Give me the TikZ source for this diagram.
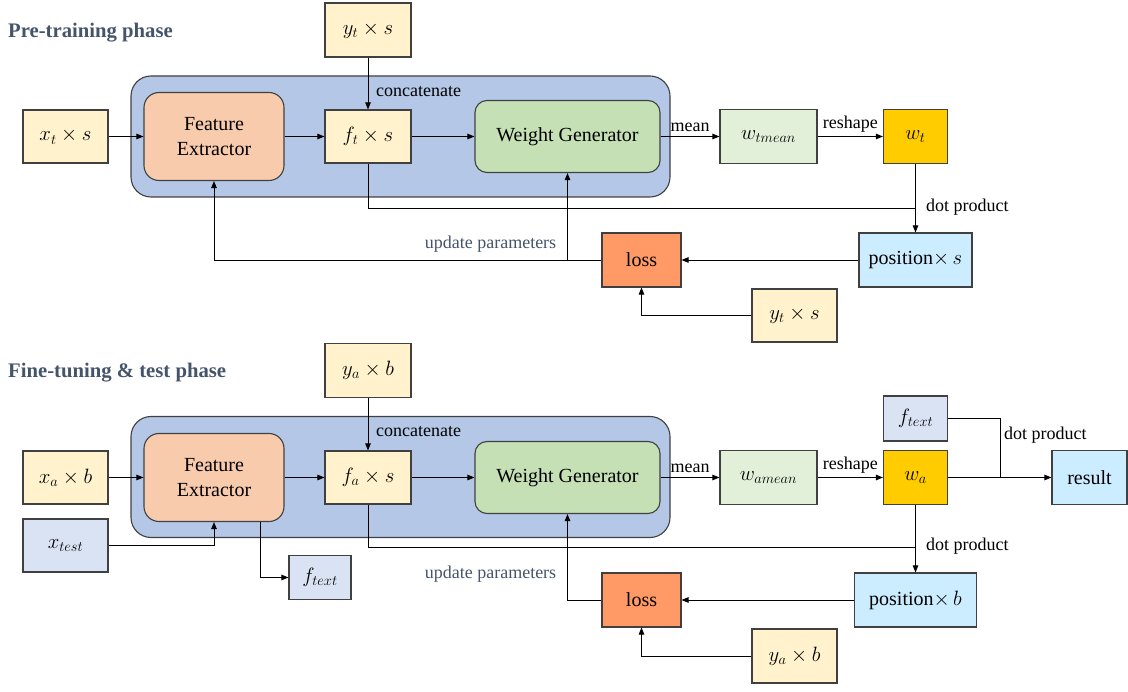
\documentclass[tikz,border=0pt]{standalone}
\usepackage{fontspec}
\setmainfont{Liberation Serif}
\usetikzlibrary{arrows.meta}
\definecolor{boxline}{HTML}{404040}
\definecolor{ylw}{HTML}{FFF2CC}
\definecolor{bigblue}{HTML}{B4C7E7}
\definecolor{feorange}{HTML}{F8CBAD}
\definecolor{wggreen}{HTML}{C5E0B4}
\definecolor{wmgreen}{HTML}{E2F0D9}
\definecolor{wgold}{HTML}{FFCC00}
\definecolor{posblue}{HTML}{CCECFF}
\definecolor{lossor}{HTML}{FF9966}
\definecolor{paleblue}{HTML}{DAE3F3}
\definecolor{titlec}{HTML}{44546A}
\begin{document}
\begin{tikzpicture}[x=1pt,y=-1pt,
  box/.style={draw=boxline, line width=1.1pt, inner sep=0pt, align=center,
    font=\fontsize{20}{25}\selectfont},
  bigbox/.style={draw=boxline, line width=1.1pt, fill=bigblue, rounded corners=20pt,
    minimum width=539pt, minimum height=121pt},
  conn/.style={draw=black, line width=0.9pt},
  arr/.style={conn, -{Triangle[length=7pt,width=5.5pt]}},
  lab/.style={font=\fontsize{18}{20}\selectfont, inner sep=0pt},
  ttl/.style={font=\bfseries\fontsize{20.7}{24}\selectfont, text=titlec, inner sep=0pt, anchor=west},
]
\useasboundingbox (0,0) rectangle (1128,692);

% ---------------- Pre-training phase ----------------
\node[ttl] (t1) at (8,33) {Pre-training phase};
\node[bigbox] (big1) at (400.5,136.5) {};
\node[box, fill=ylw, minimum width=86pt, minimum height=54pt] (yt1) at (368,30) {$y_t\times s$};
\node[box, fill=ylw, minimum width=85pt, minimum height=53pt] (xt1) at (65.5,136.5) {$x_t\times s$};
\node[box, fill=feorange, rounded corners=15pt, minimum width=140pt, minimum height=88pt] (fe1) at (214,136.5) {Feature\\Extractor};
\node[box, fill=ylw, minimum width=86pt, minimum height=53pt] (ft1) at (368,136.5) {$f_t\times s$};
\node[box, fill=wggreen, rounded corners=12pt, minimum width=185pt, minimum height=72pt] (wg1) at (567.5,136.5) {Weight Generator};
\node[box, fill=wmgreen, minimum width=97pt, minimum height=54pt] (wm1) at (768.5,136.5) {$w_{tmean}$};
\node[box, fill=wgold, minimum width=64pt, minimum height=54pt] (w1) at (915.5,136.5) {$w_t$};
\node[box, fill=posblue, minimum width=113pt, minimum height=54pt] (pos1) at (915.5,260) {position$\times\, s$};
\node[box, fill=lossor, minimum width=79pt, minimum height=54pt] (loss1) at (641.5,260) {loss};
\node[box, fill=ylw, minimum width=85pt, minimum height=53pt] (yl1) at (794.5,315.5) {$y_t\times s$};
\coordinate (dp1) at (915.5,208);

\draw[arr] (xt1) -- (fe1);
\draw[arr] (fe1) -- (ft1);
\draw[arr] (yt1) -- (ft1);
\node[lab, anchor=west] (cc1) at (376,92) {concatenate};
\draw[arr] (ft1) -- (wg1);
\draw[arr] (wg1) -- node[lab, above=4pt] (mn1) {mean} (wm1);
\draw[arr] (wm1) -- node[lab, above=4pt] (rs1) {reshape} (w1);
\draw[arr] (w1) -- (pos1);
\draw[conn] (ft1.south) |- (dp1);
\node[lab, anchor=west] (dpl1) at (926,207) {dot product};
\draw[arr] (pos1) -- (loss1);
\draw[arr] (yl1.west) -| (loss1.south);
\draw[arr] (loss1.west) -| (wg1.south);
\draw[arr] (loss1.west) -| (fe1.south);
\node[lab, text=titlec] (up1) at (490.5,244) {update parameters};

% ---------------- Fine-tuning & test phase ----------------
\node[ttl] (t2) at (8,373) {Fine-tuning \& test phase};
\node[bigbox] (big2) at (400.5,477) {};
\node[box, fill=ylw, minimum width=86pt, minimum height=54pt] (ya2) at (368,370.5) {$y_a\times b$};
\node[box, fill=ylw, minimum width=85pt, minimum height=53pt] (xa2) at (65.5,477.5) {$x_a\times b$};
\node[box, fill=feorange, rounded corners=15pt, minimum width=140pt, minimum height=88pt] (fe2) at (214,477.5) {Feature\\Extractor};
\node[box, fill=ylw, minimum width=86pt, minimum height=53pt] (fa2) at (368,477.5) {$f_a\times s$};
\node[box, fill=wggreen, rounded corners=12pt, minimum width=185pt, minimum height=72pt] (wg2) at (567.5,477.5) {Weight Generator};
\node[box, fill=wmgreen, minimum width=97pt, minimum height=54pt] (wm2) at (768.5,477.5) {$w_{amean}$};
\node[box, fill=wgold, minimum width=64pt, minimum height=54pt] (w2) at (915.5,477.5) {$w_a$};
\node[box, fill=paleblue, minimum width=64pt, minimum height=45pt] (ftr) at (915.5,418.5) {$f_{text}$};
\node[box, fill=posblue, minimum width=75pt, minimum height=54pt] (res) at (1089.5,477.5) {result};
\node[box, fill=posblue, minimum width=122pt, minimum height=54pt] (pos2) at (915.5,600) {position$\times\, b$};
\node[box, fill=lossor, minimum width=79pt, minimum height=54pt] (loss2) at (641.5,600) {loss};
\node[box, fill=ylw, minimum width=85pt, minimum height=54pt] (yl2) at (794.5,656) {$y_a\times b$};
\node[box, fill=paleblue, minimum width=85pt, minimum height=53pt] (xte) at (65.5,545.5) {$x_{test}$};
\node[box, fill=paleblue, minimum width=62pt, minimum height=44pt] (ftl) at (320,577.5) {$f_{text}$};
\coordinate (dp2) at (915.5,547);
\coordinate (j2) at (1000,477.5);

\draw[arr] (xa2) -- (fe2);
\draw[arr] (fe2) -- (fa2);
\draw[arr] (ya2) -- (fa2);
\node[lab, anchor=west] (cc2) at (376,432) {concatenate};
\draw[arr] (fa2) -- (wg2);
\draw[arr] (wg2) -- node[lab, above=4pt] (mn2) {mean} (wm2);
\draw[arr] (wm2) -- node[lab, above=4pt] (rs2) {reshape} (w2);
\draw[arr] (w2) -- (res);
\draw[conn] (ftr.east) -| (j2);
\node[lab, anchor=west] (dpl3) at (1004,435) {dot product};
\draw[arr] (w2) -- (pos2);
\draw[conn] (fa2.south) |- (dp2);
\node[lab, anchor=west] (dpl2) at (926,546) {dot product};
\draw[arr] (pos2) -- (loss2);
\draw[arr] (yl2.west) -| (loss2.south);
\draw[arr] (loss2.west) -| (wg2.south);
\node[lab, text=titlec] (up2) at (490.5,574) {update parameters};
\draw[arr] (xte.east) -| (fe2.south);
\draw[arr] ([xshift=46pt]fe2.south) |- (ftl.west);
\end{tikzpicture}
\end{document}
